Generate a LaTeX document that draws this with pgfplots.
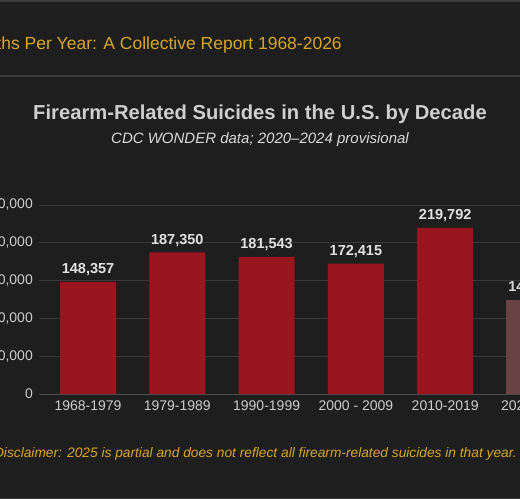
\documentclass[border=0pt]{standalone}
\usepackage{fontspec}
\setmainfont{Liberation Sans}
\usepackage{pgfplots}
\pgfplotsset{compat=1.18}
\definecolor{bg}{HTML}{1E1E1E}
\definecolor{rulegrey}{HTML}{3C3C3C}
\definecolor{gridgrey}{HTML}{3A3A3A}
\definecolor{axisgrey}{HTML}{4C4C4C}
\definecolor{gold}{HTML}{D6A62B}
\definecolor{titlegrey}{HTML}{CFCFCF}
\definecolor{subgrey}{HTML}{DADADA}
\definecolor{ticktext}{HTML}{CCCCCC}
\definecolor{labeltext}{HTML}{E2E2E2}
\definecolor{barred}{HTML}{99161E}
\definecolor{barpale}{HTML}{6E4547}

\begin{document}
\begin{tikzpicture}
\path[use as bounding box] (0,0) rectangle (520pt,-499pt);
\clip (0,0) rectangle (520pt,-499pt);
\fill[bg] (0,0) rectangle (520pt,-499pt);
\draw[rulegrey, line width=1.5pt] (0,-0.75pt) -- (520pt,-0.75pt);
\draw[rulegrey, line width=1.5pt] (0,-76pt) -- (520pt,-76pt);
\draw[rulegrey, line width=1.5pt] (0,-498.25pt) -- (520pt,-498.25pt);

% heading of the page, cut at the left
\node[anchor=base east, inner sep=0pt, text=gold, font=\fontsize{17.5}{21}\selectfont]
  at (342pt,-49pt) {Deaths Per Year: A Collective Report 1968-2026};

% chart title and subtitle
\node[anchor=base, inner sep=0pt, text=titlegrey, font=\bfseries\fontsize{20.2}{24}\selectfont]
  at (260pt,-119pt) {Firearm-Related Suicides in the U.S. by Decade};
\node[anchor=base, inner sep=0pt, text=subgrey, font=\itshape\fontsize{15}{18}\selectfont]
  at (260pt,-143pt) {CDC WONDER data; 2020--2024 provisional};

\begin{axis}[
    at={(39pt,-394pt)}, anchor=south west,
    scale only axis, width=544.7pt, height=189pt,
    xmin=-0.549, xmax=5.551, ymin=0, ymax=250000,
    ybar, bar width=56pt, bar shift=0pt,
    clip=false,
    axis x line*=bottom, axis y line*=left,
    x axis line style={draw=axisgrey, line width=1pt},
    y axis line style={draw=none},
    major tick length=0pt,
    xtick style={draw=none}, ytick style={draw=none},
    ymajorgrids, grid style={gridgrey, line width=1pt},
    ytick={0,50000,100000,150000,200000,250000},
    scaled y ticks=false,
    /pgf/number format/assume math mode=true,
    /pgf/number format/fixed,
    /pgf/number format/precision=0,
    /pgf/number format/1000 sep={,},
    xtick={0,1,2,3,4,5},
    xticklabels={1968-1979,1979-1989,1990-1999,2000 - 2009,2010-2019,2020-2025},
    ticklabel style={text=ticktext, font=\fontsize{14}{17}\selectfont},
    yticklabel style={inner sep=0pt, anchor=east, xshift=-6pt},
    xticklabel style={inner sep=0pt, anchor=north, yshift=-6.5pt},
    every node near coord/.append style={font=\bfseries\fontsize{14.5}{17}\selectfont,
      text=labeltext, inner sep=0pt, anchor=base, yshift=8pt},
  ]
  \addplot[fill=barred, draw=none, nodes near coords] coordinates {
    (0,148357) (1,187350) (2,181543) (3,172415) (4,219792)
  };
  \addplot[fill=barpale, fill opacity=0.95, draw=none, nodes near coords={145,000}] coordinates {
    (5,124500)
  };
\end{axis}

% disclaimer, cut at the left
\node[anchor=base east, inner sep=0pt, text=gold, font=\itshape\fontsize{13.75}{17}\selectfont]
  at (517pt,-457pt) {Disclaimer: 2025 is partial and does not reflect all firearm-related suicides in that year.};
\end{tikzpicture}
\end{document}
